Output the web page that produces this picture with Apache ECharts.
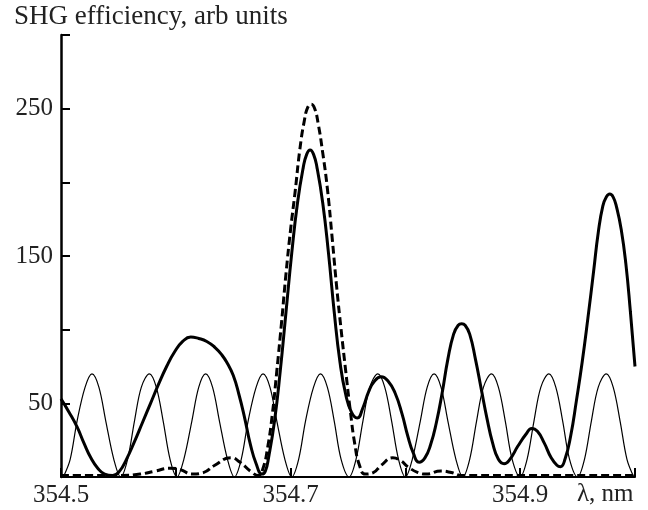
<!DOCTYPE html>
<html>
<head>
<meta charset="utf-8">
<script src="https://cdn.jsdelivr.net/npm/echarts@6/dist/echarts.min.js"></script>
<style>
  html, body { margin: 0; padding: 0; background: #fff; }
  #chart { width: 648px; height: 510px; }
</style>
</head>
<body>
<div id="chart"></div>
<script>
// tick labels that are printed on each axis
const xTickLabels = ['354.5', '354.7', '354.9'];
const yTickLabels = ['50', '150', '250'];

// thin periodic curve: [lambda nm, SHG efficiency]
const thinCurve = [
  [354.502, 0], [354.508, 12], [354.514, 38], [354.521, 61], [354.527, 70], [354.533, 61], [354.539, 38], [354.546, 12],
  [354.552, 0], [354.558, 12], [354.564, 38], [354.570, 61], [354.577, 70], [354.583, 61], [354.589, 38], [354.595, 12],
  [354.601, 0], [354.607, 12], [354.614, 38], [354.620, 61], [354.626, 70], [354.632, 61], [354.638, 38], [354.645, 12],
  [354.651, 0], [354.657, 12], [354.663, 38], [354.670, 61], [354.676, 70], [354.682, 61], [354.688, 38], [354.695, 12],
  [354.701, 0], [354.707, 12], [354.713, 38], [354.720, 61], [354.726, 70], [354.732, 61], [354.738, 38], [354.744, 12],
  [354.751, 0], [354.757, 12], [354.763, 38], [354.769, 61], [354.776, 70], [354.782, 61], [354.788, 38], [354.794, 12],
  [354.800, 0], [354.806, 12], [354.813, 38], [354.819, 61], [354.825, 70], [354.831, 61], [354.837, 38], [354.844, 12],
  [354.850, 0], [354.856, 12], [354.862, 38], [354.868, 61], [354.875, 70], [354.881, 61], [354.887, 38], [354.893, 12],
  [354.900, 0], [354.906, 12], [354.912, 38], [354.918, 61], [354.925, 70], [354.931, 61], [354.937, 38], [354.943, 12],
  [354.950, 0], [354.956, 12], [354.962, 38], [354.968, 61], [354.975, 70], [354.981, 61], [354.987, 38], [354.993, 12],
  [354.999, 0]
];

// thick dashed curve
const dashedCurve = [
  [354.500, 1], [354.525, 1], [354.552, 1], [354.569, 2], [354.582, 4], [354.595, 6], [354.604, 5],
  [354.614, 2], [354.624, 3], [354.634, 8], [354.648, 13], [354.656, 10], [354.665, 4], [354.672, 1],
  [354.676, 6], [354.680, 20], [354.684, 42], [354.688, 72], [354.692, 104], [354.696, 138],
  [354.700, 168], [354.704, 194], [354.708, 222], [354.712, 242], [354.715, 251], [354.718, 253],
  [354.721, 250], [354.724, 240], [354.728, 220], [354.732, 196], [354.736, 164], [354.740, 130],
  [354.744, 100], [354.748, 72], [354.752, 45], [354.756, 22], [354.760, 8], [354.765, 2],
  [354.772, 3], [354.779, 8], [354.789, 13], [354.796, 11], [354.802, 7], [354.811, 3], [354.818, 2],
  [354.831, 4], [354.840, 3], [354.849, 1], [354.900, 1], [355.000, 1]
];

// thick solid curve
const solidCurve = [
  [354.500, 53], [354.507, 44], [354.514, 34], [354.520, 23], [354.526, 13], [354.532, 6], [354.538, 2],
  [354.545, 1], [354.551, 4], [354.557, 12], [354.564, 24], [354.571, 37], [354.578, 50], [354.585, 63],
  [354.592, 75], [354.599, 85], [354.606, 92], [354.613, 95], [354.620, 94], [354.627, 92], [354.634, 88],
  [354.640, 83], [354.645, 77], [354.650, 69], [354.655, 56], [354.660, 40], [354.665, 22], [354.670, 9],
  [354.675, 2], [354.678, 4], [354.681, 14], [354.686, 38], [354.691, 72], [354.696, 112], [354.701, 152],
  [354.706, 186], [354.711, 210], [354.714, 219], [354.717, 222], [354.720, 219], [354.723, 210],
  [354.728, 186], [354.733, 152], [354.738, 112], [354.743, 78], [354.748, 56], [354.753, 44],
  [354.758, 40], [354.763, 47], [354.768, 58], [354.773, 65], [354.779, 68], [354.785, 65], [354.791, 57],
  [354.797, 43], [354.802, 28], [354.807, 16], [354.812, 10], [354.817, 13], [354.822, 22], [354.827, 37],
  [354.832, 57], [354.837, 80], [354.842, 97], [354.846, 103], [354.849, 104], [354.852, 103],
  [354.856, 97], [354.861, 80], [354.866, 60], [354.871, 40], [354.876, 23], [354.881, 12], [354.886, 9],
  [354.891, 12], [354.898, 21], [354.905, 29], [354.910, 33], [354.915, 31], [354.921, 23], [354.927, 13],
  [354.932, 8], [354.935, 7], [354.939, 12], [354.944, 28], [354.949, 52], [354.954, 78], [354.959, 108],
  [354.964, 140], [354.968, 166], [354.972, 184], [354.975, 190], [354.978, 192], [354.981, 190],
  [354.984, 183], [354.988, 168], [354.992, 145], [354.996, 112], [355.000, 75]
];

const textColor = '#222';
const fontFamily = '"Liberation Serif", "DejaVu Serif", serif';

const chart = echarts.init(document.getElementById('chart'), null, { renderer: 'canvas' });

chart.setOption({
  animation: false,
  backgroundColor: '#fff',
  title: [
    {
      text: 'SHG efficiency, arb units',
      left: 14,
      top: 3,
      padding: 0,
      textStyle: { fontFamily, fontSize: 27, fontWeight: 'normal', color: textColor }
    },
    {
      text: 'λ, nm',
      left: 577,
      top: 482,
      padding: 0,
      textStyle: { fontFamily, fontSize: 25, fontWeight: 'normal', color: textColor }
    }
  ],
  grid: { left: 61, right: 13, top: 35, bottom: 33 },
  xAxis: {
    type: 'value',
    min: 354.5,
    max: 355.0,
    interval: 0.1,
    splitLine: { show: false },
    axisLine: { lineStyle: { color: '#000', width: 2 } },
    axisTick: { inside: true, length: 9, lineStyle: { color: '#000', width: 2 } },
    axisLabel: {
      margin: 6,
      color: textColor,
      fontFamily,
      fontSize: 25,
      formatter: v => {
        const s = v.toFixed(1);
        return xTickLabels.includes(s) ? s : '';
      }
    }
  },
  yAxis: {
    type: 'value',
    min: 0,
    max: 300,
    interval: 50,
    splitLine: { show: false },
    axisLine: { show: true, lineStyle: { color: '#000', width: 2.5 } },
    axisTick: { show: true, inside: true, length: 9, lineStyle: { color: '#000', width: 2 } },
    axisLabel: {
      margin: 8,
      color: textColor,
      fontFamily,
      fontSize: 25,
      formatter: v => (yTickLabels.includes(String(v)) ? String(v) : '')
    }
  },
  series: [
    {
      type: 'line',
      data: thinCurve,
      symbol: 'none',
      smooth: 0.35,
      lineStyle: { color: '#000', width: 1.2 }
    },
    {
      type: 'line',
      data: dashedCurve,
      symbol: 'none',
      smooth: 0.5,
      lineStyle: { color: '#000', width: 3, type: [8, 4] }
    },
    {
      type: 'line',
      data: solidCurve,
      symbol: 'none',
      smooth: 0.5,
      lineStyle: { color: '#000', width: 3 }
    }
  ]
});
</script>
</body>
</html>
